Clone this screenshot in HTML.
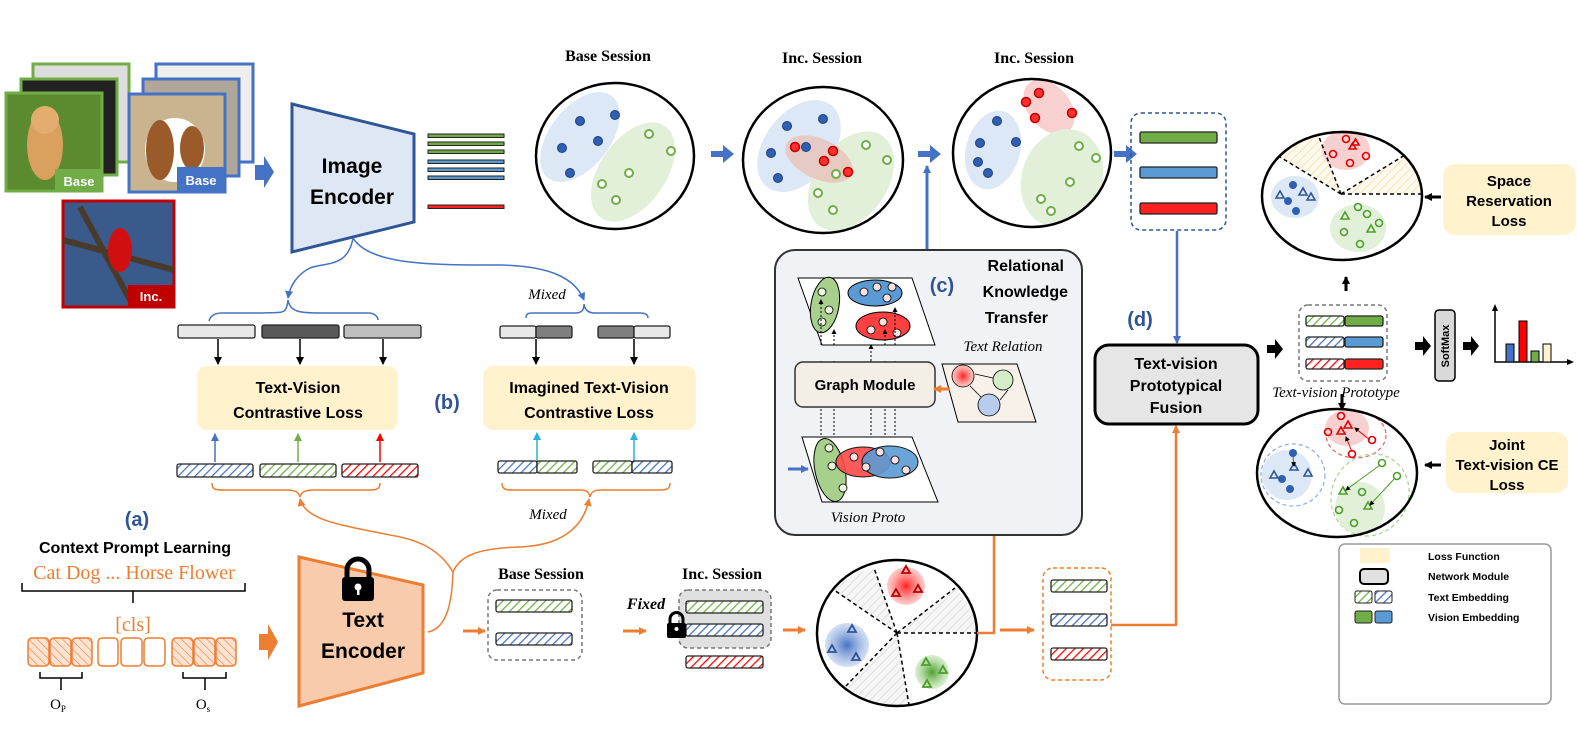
<!DOCTYPE html>
<html><head><meta charset="utf-8"><style>
html,body{margin:0;padding:0;background:#fff;}
svg{display:block;}
.b{font-family:"Liberation Sans",sans-serif;font-weight:bold;}
.s{font-family:"Liberation Serif",serif;}
</style></head><body>
<svg width="1578" height="744" viewBox="0 0 1578 744" xmlns="http://www.w3.org/2000/svg">
<defs>
<pattern id="hb" width="6" height="6" patternUnits="userSpaceOnUse" patternTransform="rotate(45)"><rect width="6" height="6" fill="#fff"/><line x1="0" y1="0" x2="0" y2="6" stroke="#4472c4" stroke-width="2.5"/></pattern>
<pattern id="hg" width="6" height="6" patternUnits="userSpaceOnUse" patternTransform="rotate(45)"><rect width="6" height="6" fill="#fff"/><line x1="0" y1="0" x2="0" y2="6" stroke="#70ad47" stroke-width="2.5"/></pattern>
<pattern id="hr" width="6" height="6" patternUnits="userSpaceOnUse" patternTransform="rotate(45)"><rect width="6" height="6" fill="#fff"/><line x1="0" y1="0" x2="0" y2="6" stroke="#ff0000" stroke-width="2.5"/></pattern>
<pattern id="ho" width="6" height="6" patternUnits="userSpaceOnUse" patternTransform="rotate(-45)"><rect width="6" height="6" fill="#fbe3d3"/><line x1="0" y1="0" x2="0" y2="6" stroke="#ed7d31" stroke-width="1.2"/></pattern>
<pattern id="hgr" width="6" height="6" patternUnits="userSpaceOnUse" patternTransform="rotate(45)"><rect width="6" height="6" fill="#f6f6f6"/><line x1="0" y1="0" x2="0" y2="6" stroke="#d6d6d6" stroke-width="1.5"/></pattern>
<pattern id="hy" width="6" height="6" patternUnits="userSpaceOnUse" patternTransform="rotate(45)"><rect width="6" height="6" fill="#fffaf0"/><line x1="0" y1="0" x2="0" y2="6" stroke="#f8e2b0" stroke-width="2"/></pattern>
<marker id="ab" markerWidth="8" markerHeight="8" refX="7" refY="4" orient="auto" markerUnits="userSpaceOnUse"><path d="M0,0 L8,4 L0,8 z" fill="#4472c4"/></marker>
<marker id="ak" markerWidth="8" markerHeight="8" refX="7" refY="4" orient="auto" markerUnits="userSpaceOnUse"><path d="M0,0 L8,4 L0,8 z" fill="#000"/></marker>
<marker id="ao" markerWidth="8" markerHeight="8" refX="7" refY="4" orient="auto" markerUnits="userSpaceOnUse"><path d="M0,0 L8,4 L0,8 z" fill="#ed7d31"/></marker>
<marker id="ag" markerWidth="8" markerHeight="8" refX="7" refY="4" orient="auto" markerUnits="userSpaceOnUse"><path d="M0,0 L8,4 L0,8 z" fill="#70ad47"/></marker>
<marker id="ar" markerWidth="8" markerHeight="8" refX="7" refY="4" orient="auto" markerUnits="userSpaceOnUse"><path d="M0,0 L8,4 L0,8 z" fill="#ff0000"/></marker>
<marker id="ac" markerWidth="8" markerHeight="8" refX="7" refY="4" orient="auto" markerUnits="userSpaceOnUse"><path d="M0,0 L8,4 L0,8 z" fill="#2ab0e0"/></marker>
<marker id="as" markerWidth="5" markerHeight="5" refX="4" refY="2.5" orient="auto" markerUnits="userSpaceOnUse"><path d="M0,0 L5,2.5 L0,5 z" fill="#000"/></marker>
<radialGradient id="rr"><stop offset="0" stop-color="#ff2020"/><stop offset="1" stop-color="#ff9a9a" stop-opacity=".5"/></radialGradient>
<radialGradient id="rb"><stop offset="0" stop-color="#4472c4"/><stop offset="1" stop-color="#aac0e8" stop-opacity=".5"/></radialGradient>
<radialGradient id="rg"><stop offset="0" stop-color="#4aa02a"/><stop offset="1" stop-color="#b8dca8" stop-opacity=".5"/></radialGradient>
<clipPath id="c1"><ellipse cx="615" cy="156" rx="79" ry="73"/></clipPath>
<clipPath id="c2"><ellipse cx="823" cy="160" rx="80" ry="73"/></clipPath>
<clipPath id="c3"><ellipse cx="1032" cy="153" rx="79" ry="74"/></clipPath>
</defs>

<!-- images -->
<rect x="33" y="64" width="96" height="98" fill="#ddd" stroke="#70ad47" stroke-width="3"/>
<rect x="21" y="79" width="96" height="96" fill="#222" stroke="#70ad47" stroke-width="3"/>
<rect x="6" y="93" width="96" height="98" fill="#5c8a2e" stroke="#70ad47" stroke-width="3"/>
<ellipse cx="45" cy="145" rx="18" ry="35" fill="#d9a060"/>
<circle cx="45" cy="120" r="14" fill="#e2ad6e"/>
<rect x="55" y="169" width="48" height="23" fill="#70ad47"/>
<text x="79" y="186" class="b" font-size="13" fill="#fff" text-anchor="middle">Base</text>
<rect x="156" y="64" width="97" height="98" fill="#eee" stroke="#4472c4" stroke-width="3"/>
<rect x="143" y="79" width="96" height="97" fill="#b0a79a" stroke="#4472c4" stroke-width="3"/>
<rect x="129" y="94" width="96" height="98" fill="#c9b48f" stroke="#4472c4" stroke-width="3"/>
<ellipse cx="175" cy="150" rx="30" ry="32" fill="#fff"/>
<ellipse cx="160" cy="150" rx="14" ry="30" fill="#9a5a2a"/>
<ellipse cx="192" cy="148" rx="12" ry="22" fill="#9a5a2a"/>
<rect x="177" y="167" width="48" height="25" fill="#4472c4"/>
<text x="201" y="185" class="b" font-size="13" fill="#fff" text-anchor="middle">Base</text>
<rect x="63" y="201" width="111" height="106" fill="#3a5a8c" stroke="#c00000" stroke-width="3"/>
<path d="M63,240 L174,270 M80,207 L130,300" stroke="#4a3a2a" stroke-width="6"/>
<ellipse cx="120" cy="250" rx="12" ry="22" fill="#d01010"/>
<rect x="128" y="285" width="46" height="22" fill="#c00000"/>
<text x="151" y="301" class="b" font-size="13" fill="#fff" text-anchor="middle">Inc.</text>

<path d="M255,165 L264,165 L264,156 L274,172 L264,188 L264,180 L255,180 z" fill="#4472c4"/>

<!-- image encoder -->
<path d="M292,104 L414,134 L414,222 L292,252 z" fill="#dde8f4" stroke="#2f5597" stroke-width="3"/>
<text x="352" y="173" class="b" font-size="21" text-anchor="middle">Image</text>
<text x="352" y="204" class="b" font-size="21" text-anchor="middle">Encoder</text>
<g stroke="#222" stroke-width="1">
<rect x="428" y="134" width="76" height="3.5" fill="#70ad47"/>
<rect x="428" y="142" width="76" height="3.5" fill="#70ad47"/>
<rect x="428" y="150" width="76" height="3.5" fill="#70ad47"/>
<rect x="428" y="160" width="76" height="3.5" fill="#5b9bd5"/>
<rect x="428" y="168" width="76" height="3.5" fill="#5b9bd5"/>
<rect x="428" y="176" width="76" height="3.5" fill="#5b9bd5"/>
<rect x="428" y="205" width="76" height="3.5" fill="#ff2020"/>
</g>

<!-- titles -->
<text x="608" y="61" class="s" font-weight="bold" font-size="16" text-anchor="middle">Base Session</text>
<text x="822" y="63" class="s" font-weight="bold" font-size="16" text-anchor="middle">Inc. Session</text>
<text x="1034" y="63" class="s" font-weight="bold" font-size="16" text-anchor="middle">Inc. Session</text>

<!-- circle 1 -->
<ellipse cx="615" cy="156" rx="79" ry="73" fill="#fff"/>
<g clip-path="url(#c1)">
<ellipse cx="580" cy="137" rx="30" ry="52" transform="rotate(38 580 137)" fill="#dce8f5"/>
<ellipse cx="633" cy="172" rx="33" ry="56" transform="rotate(35 633 172)" fill="#e2f0d9"/>
</g>
<g fill="#2f5fb0" stroke="#1f3f80"><circle cx="580" cy="121" r="4.5"/><circle cx="615" cy="115" r="4.5"/><circle cx="562" cy="148" r="4.5"/><circle cx="598" cy="141" r="4.5"/><circle cx="570" cy="173" r="4.5"/></g>
<g fill="#fff" stroke="#70ad47" stroke-width="2"><circle cx="649" cy="134" r="4"/><circle cx="671" cy="151" r="4"/><circle cx="629" cy="173" r="4"/><circle cx="602" cy="184" r="4"/><circle cx="616" cy="200" r="4"/></g>
<ellipse cx="615" cy="156" rx="79" ry="73" fill="none" stroke="#000" stroke-width="2.5"/>
<path d="M711,151 L723,151 L723,145 L734,154 L723,163 L723,157 L711,157z" fill="#4472c4"/>

<!-- circle 2 -->
<ellipse cx="823" cy="160" rx="80" ry="73" fill="#fff"/>
<g clip-path="url(#c2)">
<ellipse cx="799" cy="146" rx="34" ry="52" transform="rotate(38 799 146)" fill="#dce8f5"/>
<ellipse cx="851" cy="181" rx="36" ry="55" transform="rotate(35 851 181)" fill="#e2f0d9"/>
<ellipse cx="819" cy="159" rx="36" ry="20" transform="rotate(25 819 159)" fill="#e8c4bc" opacity=".85"/>
</g>
<g fill="#2f5fb0" stroke="#1f3f80"><circle cx="787" cy="126" r="4.5"/><circle cx="823" cy="119" r="4.5"/><circle cx="771" cy="153" r="4.5"/><circle cx="806" cy="147" r="4.5"/><circle cx="778" cy="178" r="4.5"/></g>
<g fill="#ff3030" stroke="#c00000" stroke-width="1.5"><circle cx="795" cy="147" r="4.5"/><circle cx="833" cy="151" r="4.5"/><circle cx="824" cy="161" r="4.5"/><circle cx="848" cy="172" r="4.5"/></g>
<g fill="#fff" stroke="#70ad47" stroke-width="2"><circle cx="866" cy="145" r="4"/><circle cx="887" cy="160" r="4"/><circle cx="836" cy="174" r="4"/><circle cx="818" cy="193" r="4"/><circle cx="833" cy="210" r="4"/></g>
<ellipse cx="823" cy="160" rx="80" ry="73" fill="none" stroke="#000" stroke-width="2.5"/>
<path d="M918,151 L930,151 L930,145 L941,154 L930,163 L930,157 L918,157z" fill="#4472c4"/>
<line x1="927" y1="249" x2="927" y2="166" stroke="#4472c4" stroke-width="3" marker-end="url(#ab)"/>

<!-- circle 3 -->
<ellipse cx="1032" cy="153" rx="79" ry="74" fill="#fff"/>
<g clip-path="url(#c3)">
<ellipse cx="993" cy="150" rx="27" ry="40" transform="rotate(15 993 150)" fill="#dce8f5"/>
<ellipse cx="1049" cy="107" rx="21" ry="31" transform="rotate(-40 1049 107)" fill="#f8d0d0"/>
<ellipse cx="1062" cy="178" rx="40" ry="50" transform="rotate(20 1062 178)" fill="#e2f0d9"/>
</g>
<g fill="#2f5fb0" stroke="#1f3f80"><circle cx="997" cy="121" r="4.5"/><circle cx="980" cy="143" r="4.5"/><circle cx="1016" cy="142" r="4.5"/><circle cx="978" cy="162" r="4.5"/><circle cx="988" cy="173" r="4.5"/></g>
<g fill="#ff3030" stroke="#c00000" stroke-width="1.5"><circle cx="1039" cy="93" r="4.5"/><circle cx="1026" cy="102" r="4.5"/><circle cx="1035" cy="118" r="4.5"/><circle cx="1072" cy="113" r="4.5"/></g>
<g fill="#fff" stroke="#70ad47" stroke-width="2"><circle cx="1079" cy="146" r="4"/><circle cx="1096" cy="158" r="4"/><circle cx="1070" cy="182" r="4"/><circle cx="1041" cy="199" r="4"/><circle cx="1051" cy="211" r="4"/></g>
<ellipse cx="1032" cy="153" rx="79" ry="74" fill="none" stroke="#000" stroke-width="2.5"/>
<path d="M1114,151 L1126,151 L1126,145 L1137,154 L1126,163 L1126,157 L1114,157z" fill="#4472c4"/>

<!-- dashed blue box -->
<rect x="1131" y="113" width="95" height="117" rx="10" fill="none" stroke="#2f5597" stroke-width="1.5" stroke-dasharray="4,3"/>
<rect x="1140" y="132" width="77" height="11" rx="1.5" fill="#70ad47" stroke="#222" stroke-width="1.3"/>
<rect x="1140" y="167" width="77" height="11" rx="1.5" fill="#5b9bd5" stroke="#222" stroke-width="1.3"/>
<rect x="1140" y="203" width="77" height="11" rx="1.5" fill="#ff2020" stroke="#222" stroke-width="1.3"/>
<line x1="1177" y1="231" x2="1177" y2="343" stroke="#4472c4" stroke-width="2.5" marker-end="url(#ab)"/>
<text x="1140" y="326" class="b" font-size="20" fill="#2f5597" text-anchor="middle">(d)</text>

<!-- fusion box -->
<rect x="1095" y="345" width="163" height="79" rx="14" fill="#e6e6e6" stroke="#000" stroke-width="3"/>
<text x="1176" y="369" class="b" font-size="16" text-anchor="middle">Text-vision</text>
<text x="1176" y="391" class="b" font-size="16" text-anchor="middle">Prototypical</text>
<text x="1176" y="413" class="b" font-size="16" text-anchor="middle">Fusion</text>
<line x1="1176" y1="625" x2="1176" y2="426" stroke="#ed7d31" stroke-width="2.5" marker-end="url(#ao)"/>

<!-- (b) left -->
<path d="M288,300 C286,315 284,312 260,313 L222,313 C212,313 210,318 209,321 M288,300 C290,312 300,313 320,313 L368,313 C376,313 378,318 378,320" fill="none" stroke="#4472c4" stroke-width="1.5"/>
<path d="M353,238 C348,268 325,262 310,268 C298,274 290,285 288,298" fill="none" stroke="#4472c4" stroke-width="1.5" marker-end="url(#ab)"/>
<path d="M353,238 C370,265 430,265 500,265 C550,266 575,278 584,300" fill="none" stroke="#4472c4" stroke-width="1.5" marker-end="url(#ab)"/>
<g stroke="#222" stroke-width="1.3">
<rect x="178" y="325" width="77" height="13" rx="2" fill="#e8e8e8"/>
<rect x="262" y="325" width="77" height="13" rx="2" fill="#595959"/>
<rect x="344" y="325" width="77" height="13" rx="2" fill="#bfbfbf"/>
</g>
<g stroke="#000" stroke-width="1.5"><line x1="218" y1="339" x2="218" y2="364" marker-end="url(#ak)"/><line x1="300" y1="339" x2="300" y2="364" marker-end="url(#ak)"/><line x1="383" y1="339" x2="383" y2="364" marker-end="url(#ak)"/></g>
<rect x="197" y="366" width="201" height="64" rx="10" fill="#fff2cc"/>
<text x="298" y="393" class="b" font-size="16" text-anchor="middle">Text-Vision</text>
<text x="298" y="418" class="b" font-size="16" text-anchor="middle">Contrastive Loss</text>
<text x="447" y="409" class="b" font-size="20" fill="#2f5597" text-anchor="middle">(b)</text>
<line x1="215" y1="462" x2="215" y2="434" stroke="#4472c4" stroke-width="1.5" marker-end="url(#ab)"/>
<line x1="298" y1="462" x2="298" y2="434" stroke="#70ad47" stroke-width="1.5" marker-end="url(#ag)"/>
<line x1="380" y1="462" x2="380" y2="434" stroke="#ff0000" stroke-width="1.5" marker-end="url(#ar)"/>
<g stroke="#222" stroke-width="1.3">
<rect x="177" y="464" width="76" height="13" rx="2" fill="url(#hb)"/>
<rect x="260" y="464" width="76" height="13" rx="2" fill="url(#hg)"/>
<rect x="342" y="464" width="76" height="13" rx="2" fill="url(#hr)"/>
</g>
<path d="M212,483 C212,490 216,490 225,490 L285,490 C295,490 299,492 300,497 C301,492 305,490 315,490 L370,490 C378,490 380,488 380,483" fill="none" stroke="#ed7d31" stroke-width="1.5"/>

<!-- imagined -->
<text x="547" y="299" class="s" font-style="italic" font-size="15" text-anchor="middle">Mixed</text>
<path d="M526,318 C526,312 530,313 540,313 L575,313 C582,313 584,310 584,304 C585,310 588,313 595,313 L640,313 C646,313 648,315 648,318" fill="none" stroke="#4472c4" stroke-width="1.5"/>
<g stroke="#222" stroke-width="1.3">
<rect x="500" y="326" width="36" height="12" rx="2" fill="#e8e8e8"/>
<rect x="536" y="326" width="36" height="12" rx="2" fill="#7f7f7f"/>
<rect x="598" y="326" width="36" height="12" rx="2" fill="#7f7f7f"/>
<rect x="634" y="326" width="36" height="12" rx="2" fill="#e8e8e8"/>
</g>
<g stroke="#000" stroke-width="1.5"><line x1="536" y1="339" x2="536" y2="364" marker-end="url(#ak)"/><line x1="634" y1="339" x2="634" y2="364" marker-end="url(#ak)"/></g>
<rect x="483" y="366" width="213" height="64" rx="10" fill="#fff2cc"/>
<text x="589" y="393" class="b" font-size="16" text-anchor="middle">Imagined Text-Vision</text>
<text x="589" y="418" class="b" font-size="16" text-anchor="middle">Contrastive Loss</text>
<line x1="537" y1="461" x2="537" y2="433" stroke="#2ab0e0" stroke-width="1.5" marker-end="url(#ac)"/>
<line x1="634" y1="461" x2="634" y2="433" stroke="#2ab0e0" stroke-width="1.5" marker-end="url(#ac)"/>
<g stroke="#222" stroke-width="1.3">
<rect x="498" y="461" width="39" height="12" rx="2" fill="url(#hb)"/>
<rect x="537" y="461" width="40" height="12" rx="2" fill="url(#hg)"/>
<rect x="593" y="461" width="39" height="12" rx="2" fill="url(#hg)"/>
<rect x="632" y="461" width="40" height="12" rx="2" fill="url(#hb)"/>
</g>
<path d="M502,483 C502,490 506,490 515,490 L580,490 C587,490 589,492 590,497 C591,492 594,490 600,490 L660,490 C668,490 670,488 670,483" fill="none" stroke="#ed7d31" stroke-width="1.5"/>
<text x="548" y="519" class="s" font-style="italic" font-size="15" text-anchor="middle">Mixed</text>
<path d="M428,632 C448,628 452,600 453,572 C460,555 480,548 520,547 C570,545 585,520 589,499" fill="none" stroke="#ed7d31" stroke-width="1.5" marker-end="url(#ao)"/>
<path d="M453,572 C440,550 420,540 390,535 C340,525 305,520 300,499" fill="none" stroke="#ed7d31" stroke-width="1.5" marker-end="url(#ao)"/>

<!-- (a) -->
<text x="137" y="526" class="b" font-size="20" fill="#2f5597" text-anchor="middle">(a)</text>
<text x="135" y="553" class="b" font-size="16" text-anchor="middle">Context Prompt Learning</text>
<text x="134" y="579" class="s" font-size="20" fill="#ed7d31" text-anchor="middle">Cat  Dog ... Horse  Flower</text>
<path d="M22,583 L22,591 L245,591 L245,583 M133,591 L133,603" fill="none" stroke="#000" stroke-width="1.5"/>
<text x="133" y="631" class="s" font-size="20" fill="#ed7d31" text-anchor="middle">[cls]</text>
<g stroke="#ed7d31" stroke-width="1.5">
<rect x="28" y="638" width="21" height="28" rx="4" fill="url(#ho)"/>
<rect x="50" y="638" width="21" height="28" rx="4" fill="url(#ho)"/>
<rect x="72" y="638" width="20" height="28" rx="4" fill="url(#ho)"/>
<rect x="98" y="638" width="20" height="28" rx="4" fill="#fff"/>
<rect x="121" y="638" width="21" height="28" rx="4" fill="#fff"/>
<rect x="144" y="638" width="21" height="28" rx="4" fill="#fff"/>
<rect x="172" y="638" width="21" height="28" rx="4" fill="url(#ho)"/>
<rect x="194" y="638" width="21" height="28" rx="4" fill="url(#ho)"/>
<rect x="216" y="638" width="20" height="28" rx="4" fill="url(#ho)"/>
</g>
<path d="M40,672 L40,678 L82,678 L82,672 M61,678 L61,690 M183,672 L183,678 L226,678 L226,672 M205,678 L205,690" fill="none" stroke="#000" stroke-width="1.5"/>
<text x="58" y="709" class="s" font-size="15" text-anchor="middle">O<tspan font-size="9" dy="3">P</tspan></text>
<text x="203" y="709" class="s" font-size="15" text-anchor="middle">O<tspan font-size="9" dy="3">s</tspan></text>
<path d="M259,634 L268,634 L268,624 L278,642 L268,660 L268,650 L259,650z" fill="#ed7d31"/>

<!-- text encoder -->
<path d="M299,557 L423,585 L423,673 L299,706 z" fill="#f8cbad" stroke="#ed7d31" stroke-width="3"/>
<rect x="342" y="577" width="32" height="24" rx="3" fill="#000"/>
<path d="M347,578 L347,570 A11,11 0 0 1 369,570 L369,578" fill="none" stroke="#000" stroke-width="5"/>
<circle cx="358" cy="587" r="3.5" fill="#fff"/><rect x="357" y="588" width="2.5" height="7" fill="#fff"/>
<text x="363" y="627" class="b" font-size="21" text-anchor="middle">Text</text>
<text x="363" y="658" class="b" font-size="21" text-anchor="middle">Encoder</text>
<line x1="463" y1="631" x2="485" y2="631" stroke="#ed7d31" stroke-width="3" marker-end="url(#ao)"/>

<!-- bottom sessions -->
<text x="541" y="579" class="s" font-weight="bold" font-size="16" text-anchor="middle">Base Session</text>
<rect x="488" y="590" width="94" height="70" rx="9" fill="none" stroke="#777" stroke-width="1.5" stroke-dasharray="4,3"/>
<rect x="496" y="600" width="76" height="12" rx="2" fill="url(#hg)" stroke="#222" stroke-width="1.3"/>
<rect x="496" y="633" width="76" height="12" rx="2" fill="url(#hb)" stroke="#222" stroke-width="1.3"/>
<text x="722" y="579" class="s" font-weight="bold" font-size="16" text-anchor="middle">Inc. Session</text>
<text x="646" y="609" class="s" font-weight="bold" font-style="italic" font-size="16" text-anchor="middle">Fixed</text>
<line x1="623" y1="631" x2="646" y2="631" stroke="#ed7d31" stroke-width="3" marker-end="url(#ao)"/>
<rect x="679" y="590" width="92" height="58" rx="9" fill="#e0e0e0" stroke="#777" stroke-width="1.5" stroke-dasharray="4,3"/>
<rect x="686" y="601" width="77" height="12" rx="2" fill="url(#hg)" stroke="#222" stroke-width="1.3"/>
<rect x="686" y="624" width="77" height="12" rx="2" fill="url(#hb)" stroke="#222" stroke-width="1.3"/>
<rect x="686" y="656" width="77" height="12" rx="2" fill="url(#hr)" stroke="#222" stroke-width="1.3"/>
<rect x="667" y="623" width="19" height="15" rx="2" fill="#000"/>
<path d="M670,624 L670,619 A6.5,6.5 0 0 1 683,619 L683,624" fill="none" stroke="#000" stroke-width="3"/>
<circle cx="676.5" cy="629" r="2" fill="#fff"/>
<line x1="783" y1="630" x2="805" y2="630" stroke="#ed7d31" stroke-width="3" marker-end="url(#ao)"/>

<!-- sector circle -->
<ellipse cx="897" cy="633" rx="80" ry="73" fill="#fff"/>
<path d="M897,633 L874,568 A80,73 0 0 0 834,590 z" fill="url(#hgr)"/>
<path d="M897,633 L955,588 A80,73 0 0 1 977,633 z" fill="url(#hgr)"/>
<path d="M897,633 L909,705 A80,73 0 0 1 846,686 z" fill="url(#hgr)"/>
<g stroke="#000" stroke-width="1.5" stroke-dasharray="4,3"><line x1="897" y1="633" x2="874" y2="568"/><line x1="897" y1="633" x2="834" y2="590"/><line x1="897" y1="633" x2="955" y2="588"/><line x1="897" y1="633" x2="977" y2="633"/><line x1="897" y1="633" x2="909" y2="705"/><line x1="897" y1="633" x2="846" y2="686"/></g>
<circle cx="906" cy="586" r="19" fill="url(#rr)"/>
<circle cx="847" cy="645" r="22" fill="url(#rb)"/>
<circle cx="932" cy="672" r="17" fill="url(#rg)"/>
<g fill="none" stroke-width="1.8">
<g stroke="#c00000"><path d="M902,573 l4,-7 l4,7z"/><path d="M892,596 l4,-7 l4,7z"/><path d="M914,592 l4,-7 l4,7z"/></g>
<g stroke="#2f5597"><path d="M848,632 l4,-7 l4,7z"/><path d="M828,652 l4,-7 l4,7z"/><path d="M852,660 l4,-7 l4,7z"/></g>
<g stroke="#4aa02a"><path d="M922,665 l4,-7 l4,7z"/><path d="M939,673 l4,-7 l4,7z"/><path d="M923,687 l4,-7 l4,7z"/></g>
</g>
<ellipse cx="897" cy="633" rx="80" ry="73" fill="none" stroke="#000" stroke-width="2.5"/>
<path d="M977,633 L994,633 L994,448" fill="none" stroke="#ed7d31" stroke-width="2.5" marker-end="url(#ao)"/>
<line x1="1000" y1="630" x2="1034" y2="630" stroke="#ed7d31" stroke-width="3" marker-end="url(#ao)"/>
<rect x="1043" y="568" width="68" height="112" rx="10" fill="none" stroke="#ed7d31" stroke-width="1.5" stroke-dasharray="4,3"/>
<rect x="1051" y="580" width="56" height="12" rx="2" fill="url(#hg)" stroke="#222" stroke-width="1.3"/>
<rect x="1051" y="614" width="56" height="12" rx="2" fill="url(#hb)" stroke="#222" stroke-width="1.3"/>
<rect x="1051" y="648" width="56" height="12" rx="2" fill="url(#hr)" stroke="#222" stroke-width="1.3"/>
<path d="M1111,625 L1177,625" stroke="#ed7d31" stroke-width="2.5"/>

<!-- (c) box -->
<rect x="775" y="250" width="307" height="285" rx="20" fill="#f1f2f5" stroke="#333" stroke-width="2"/>
<text x="1064" y="271" class="b" font-size="16" text-anchor="end">Relational</text>
<text x="1068" y="297" class="b" font-size="16" text-anchor="end">Knowledge</text>
<text x="1048" y="323" class="b" font-size="16" text-anchor="end">Transfer</text>
<text x="942" y="292" class="b" font-size="20" fill="#2f5597" text-anchor="middle">(c)</text>
<path d="M798,278 L912,278 L935,345 L822,345z" fill="#fff" stroke="#000" stroke-width="1"/>
<ellipse cx="825" cy="305" rx="14" ry="28" transform="rotate(10 825 305)" fill="#a8d08d" stroke="#000"/>
<ellipse cx="875" cy="293" rx="27" ry="13" fill="#5b9bd5" stroke="#000"/>
<ellipse cx="883" cy="326" rx="27" ry="14" fill="#ff4040" stroke="#000"/>
<g fill="#fde0e0" stroke="#000" stroke-width=".8"><circle cx="864" cy="292" r="4"/><circle cx="877" cy="287" r="4"/><circle cx="887" cy="298" r="4"/><circle cx="892" cy="287" r="4"/><circle cx="871" cy="330" r="4"/><circle cx="883" cy="322" r="4"/><circle cx="897" cy="333" r="4"/></g>
<g fill="#eaf5e0" stroke="#000" stroke-width=".8"><circle cx="822" cy="292" r="4"/><circle cx="829" cy="310" r="4"/><circle cx="822" cy="322" r="4"/></g>
<g stroke="#000" stroke-width="1" stroke-dasharray="2,2">
<line x1="821" y1="361" x2="821" y2="437"/><line x1="834" y1="361" x2="834" y2="437"/><line x1="871" y1="361" x2="871" y2="437"/><line x1="885" y1="361" x2="885" y2="437"/><line x1="895" y1="361" x2="895" y2="437"/>
<line x1="821" y1="345" x2="821" y2="300" marker-end="url(#as)"/><line x1="834" y1="345" x2="834" y2="330" marker-end="url(#as)"/><line x1="871" y1="361" x2="871" y2="345" marker-end="url(#as)"/><line x1="885" y1="345" x2="885" y2="330" marker-end="url(#as)"/><line x1="895" y1="345" x2="895" y2="308" marker-end="url(#as)"/>
</g>
<rect x="795" y="362" width="140" height="45" rx="8" fill="#f4efe6" stroke="#333" stroke-width="1.5"/>
<text x="865" y="390" class="b" font-size="15" text-anchor="middle">Graph Module</text>
<text x="1003" y="351" class="s" font-style="italic" font-size="15" text-anchor="middle">Text Relation</text>
<path d="M942,364 L1017,364 L1036,422 L958,422z" fill="#f7f1ea" stroke="#000" stroke-width="1"/>
<circle cx="963" cy="376" r="11" fill="url(#rr)" stroke="#000" stroke-width=".8"/>
<circle cx="1003" cy="380" r="10" fill="#d5ecc8" stroke="#000" stroke-width=".8"/>
<circle cx="989" cy="405" r="11" fill="#b8ccee" stroke="#000" stroke-width=".8"/>
<g stroke="#000" stroke-width=".8"><line x1="975" y1="374" x2="993" y2="378"/><line x1="970" y1="386" x2="981" y2="397"/><line x1="1000" y1="400" x2="1008" y2="390"/></g>
<line x1="950" y1="389" x2="934" y2="389" stroke="#ed7d31" stroke-width="3" marker-end="url(#ao)"/>
<path d="M802,437 L912,437 L938,502 L822,502z" fill="#fff" stroke="#000" stroke-width="1"/>
<ellipse cx="830" cy="470" rx="15" ry="32" transform="rotate(-12 830 470)" fill="#a8d08d" stroke="#000"/>
<ellipse cx="863" cy="462" rx="27" ry="15" fill="#ff4a4a" stroke="#000" opacity=".9"/>
<ellipse cx="890" cy="462" rx="28" ry="16" fill="#5b9bd5" stroke="#000" opacity=".9"/>
<g fill="#fde0e0" stroke="#000" stroke-width=".8"><circle cx="854" cy="457" r="4"/><circle cx="866" cy="467" r="4"/><circle cx="880" cy="452" r="4"/><circle cx="895" cy="460" r="4"/><circle cx="906" cy="470" r="4"/></g>
<g fill="#eaf5e0" stroke="#000" stroke-width=".8"><circle cx="829" cy="448" r="4"/><circle cx="832" cy="466" r="4"/><circle cx="843" cy="488" r="4"/></g>
<line x1="788" y1="469" x2="808" y2="469" stroke="#4472c4" stroke-width="3" marker-end="url(#ab)"/>
<text x="868" y="522" class="s" font-style="italic" font-size="15" text-anchor="middle">Vision Proto</text>

<!-- right: top circle -->
<ellipse cx="1342" cy="196" rx="80" ry="64" fill="#fff"/>
<path d="M1341,194 L1319,137 A80,64 0 0 0 1280,157 z" fill="url(#hy)"/>
<path d="M1341,194 L1405,155 A80,64 0 0 1 1421,194 z" fill="url(#hy)"/>
<ellipse cx="1346" cy="150" rx="24" ry="20" fill="#f8d0d0"/>
<ellipse cx="1295" cy="197" rx="24" ry="21" fill="#dce8f5"/>
<ellipse cx="1358" cy="228" rx="28" ry="24" fill="#e2f0d9"/>
<g stroke="#000" stroke-width="1.5" stroke-dasharray="4,3"><line x1="1341" y1="194" x2="1319" y2="137"/><line x1="1341" y1="194" x2="1280" y2="157"/><line x1="1341" y1="194" x2="1405" y2="155"/><line x1="1341" y1="194" x2="1421" y2="194"/></g>
<g fill="none" stroke-width="1.6">
<g stroke="#e00000"><circle cx="1346" cy="139" r="3.5"/><circle cx="1333" cy="154" r="3.5"/><circle cx="1350" cy="163" r="3.5"/><circle cx="1366" cy="156" r="3.5"/><path d="M1349,149 l3.5,-6 l3.5,6z"/><path d="M1352,145 l3.5,-6 l3.5,6z"/></g>
<g stroke="#2f5597"><path d="M1276,198 l4,-7 l4,7z"/><path d="M1299,195 l4,-7 l4,7z"/><path d="M1307,200 l4,-7 l4,7z"/></g>
<g stroke="#4aa02a"><circle cx="1358" cy="207" r="3.5"/><circle cx="1367" cy="214" r="3.5"/><circle cx="1379" cy="223" r="3.5"/><circle cx="1344" cy="232" r="3.5"/><circle cx="1360" cy="244" r="3.5"/><path d="M1341,219 l4,-7 l4,7z"/><path d="M1367,232 l4,-7 l4,7z"/></g>
</g>
<g fill="#2f5fb0"><circle cx="1293" cy="185" r="4"/><circle cx="1288" cy="201" r="4"/><circle cx="1296" cy="211" r="4"/></g>
<ellipse cx="1342" cy="196" rx="80" ry="64" fill="none" stroke="#000" stroke-width="2.5"/>
<rect x="1443" y="164" width="133" height="71" rx="12" fill="#fff2cc"/>
<text x="1509" y="186" class="b" font-size="15" text-anchor="middle">Space</text>
<text x="1509" y="206" class="b" font-size="15" text-anchor="middle">Reservation</text>
<text x="1509" y="226" class="b" font-size="15" text-anchor="middle">Loss</text>
<line x1="1441" y1="197" x2="1425" y2="197" stroke="#000" stroke-width="3" marker-end="url(#ak)"/>
<line x1="1346" y1="291" x2="1346" y2="277" stroke="#000" stroke-width="3" marker-end="url(#ak)"/>

<!-- prototype -->
<rect x="1299" y="305" width="88" height="76" rx="9" fill="none" stroke="#777" stroke-width="1.5" stroke-dasharray="4,3"/>
<g stroke="#222" stroke-width="1.3">
<rect x="1306" y="316" width="38" height="10" rx="2" fill="url(#hg)"/><rect x="1345" y="316" width="38" height="10" rx="2" fill="#70ad47"/>
<rect x="1306" y="337" width="38" height="10" rx="2" fill="url(#hb)"/><rect x="1345" y="337" width="38" height="10" rx="2" fill="#5b9bd5"/>
<rect x="1306" y="359" width="38" height="10" rx="2" fill="url(#hr)"/><rect x="1345" y="359" width="38" height="10" rx="2" fill="#ff2020"/>
</g>
<path d="M1267,345 L1275,345 L1275,339 L1283,349 L1275,359 L1275,353 L1267,353z" fill="#000"/>
<text x="1336" y="397" class="s" font-style="italic" font-size="15" text-anchor="middle">Text-vision  Prototype</text>
<line x1="1342" y1="394" x2="1342" y2="410" stroke="#000" stroke-width="3" marker-end="url(#ak)"/>
<path d="M1415,342 L1423,342 L1423,336 L1431,346 L1423,356 L1423,350 L1415,350z" fill="#000"/>
<rect x="1435" y="310" width="20" height="71" rx="4" fill="#d9d9d9" stroke="#000" stroke-width="1.5"/>
<text x="0" y="0" class="b" font-size="11" text-anchor="middle" transform="translate(1449,346) rotate(-90)">SoftMax</text>
<path d="M1463,342 L1471,342 L1471,336 L1479,346 L1471,356 L1471,350 L1463,350z" fill="#000"/>
<path d="M1495,310 L1495,362 L1568,362" fill="none" stroke="#000" stroke-width="1.5"/>
<path d="M1495,304 l-3,7 l6,0z M1574,362 l-7,-3 l0,6z" fill="#000"/>
<g stroke="#000" stroke-width="1"><rect x="1506" y="344" width="8" height="18" fill="#4472c4"/><rect x="1519" y="321" width="8" height="41" fill="#ff0000"/><rect x="1531" y="351" width="8" height="11" fill="#70ad47"/><rect x="1543" y="344" width="8" height="18" fill="#fff2cc"/></g>

<!-- bottom right circle -->
<ellipse cx="1337" cy="473" rx="80" ry="64" fill="#fff"/>
<ellipse cx="1293" cy="475" rx="32" ry="31" fill="none" stroke="#8eaadb" stroke-width="1.2" stroke-dasharray="4,3"/>
<ellipse cx="1287" cy="475" rx="25" ry="25" fill="#dce8f5"/>
<ellipse cx="1356" cy="435" rx="30" ry="23" fill="none" stroke="#e06060" stroke-width="1.2" stroke-dasharray="4,3"/>
<ellipse cx="1347" cy="428" rx="22" ry="18" fill="#f8d0d0"/>
<ellipse cx="1370" cy="495" rx="38" ry="42" transform="rotate(30 1370 495)" fill="none" stroke="#a9d18e" stroke-width="1.2" stroke-dasharray="4,3"/>
<ellipse cx="1360" cy="508" rx="25" ry="26" fill="#e2f0d9"/>
<g fill="none" stroke-width="1.6">
<g stroke="#e00000"><circle cx="1341" cy="416" r="3.5"/><circle cx="1328" cy="432" r="3.5"/><circle cx="1372" cy="440" r="3.5"/><circle cx="1352" cy="454" r="3.5"/><path d="M1344,428 l4,-7 l4,7z"/><path d="M1337,434 l4,-7 l4,7z"/></g>
<g stroke="#2f5597"><path d="M1270,478 l4,-7 l4,7z"/><path d="M1290,470 l4,-7 l4,7z"/><path d="M1304,476 l4,-7 l4,7z"/></g>
<g stroke="#4aa02a"><circle cx="1382" cy="463" r="3.5"/><circle cx="1397" cy="476" r="3.5"/><circle cx="1362" cy="492" r="3.5"/><circle cx="1339" cy="510" r="3.5"/><circle cx="1354" cy="523" r="3.5"/><path d="M1339,494 l4,-7 l4,7z"/><path d="M1364,509 l4,-7 l4,7z"/></g>
</g>
<g fill="#2f5fb0"><circle cx="1293" cy="453" r="4"/><circle cx="1282" cy="479" r="4"/><circle cx="1290" cy="489" r="4"/></g>
<g stroke-width="1"><line x1="1370" y1="440" x2="1355" y2="428" stroke="#e00000" marker-end="url(#as)"/><line x1="1352" y1="452" x2="1346" y2="437" stroke="#e00000" marker-end="url(#as)"/><line x1="1380" y1="465" x2="1346" y2="490" stroke="#4aa02a" marker-end="url(#as)"/><line x1="1395" y1="478" x2="1370" y2="505" stroke="#4aa02a" marker-end="url(#as)"/><line x1="1293" y1="457" x2="1294" y2="466" stroke="#2f5597" marker-end="url(#as)"/></g>
<ellipse cx="1337" cy="473" rx="80" ry="64" fill="none" stroke="#000" stroke-width="2.5"/>
<rect x="1446" y="432" width="122" height="61" rx="12" fill="#fff2cc"/>
<text x="1507" y="450" class="b" font-size="15" text-anchor="middle">Joint</text>
<text x="1507" y="470" class="b" font-size="15" text-anchor="middle">Text-vision CE</text>
<text x="1507" y="490" class="b" font-size="15" text-anchor="middle">Loss</text>
<line x1="1441" y1="465" x2="1425" y2="465" stroke="#000" stroke-width="3" marker-end="url(#ak)"/>

<!-- legend -->
<rect x="1339" y="544" width="212" height="160" rx="6" fill="#fff" stroke="#999" stroke-width="1.5"/>
<rect x="1360" y="548" width="30" height="15" fill="#fff2cc"/>
<rect x="1360" y="569" width="28" height="15" rx="4" fill="#e0e0e0" stroke="#000" stroke-width="2"/>
<rect x="1355" y="591" width="17" height="12" rx="2" fill="url(#hg)" stroke="#222"/><rect x="1375" y="591" width="17" height="12" rx="2" fill="url(#hb)" stroke="#222"/>
<rect x="1355" y="611" width="17" height="12" rx="2" fill="#70ad47" stroke="#222"/><rect x="1375" y="611" width="17" height="12" rx="2" fill="#5b9bd5" stroke="#222"/>
<g class="b" font-size="10.5"><text x="1428" y="560">Loss Function</text><text x="1428" y="580">Network Module</text><text x="1428" y="601">Text Embedding</text><text x="1428" y="621">Vision Embedding</text></g>
</svg>
</body></html>
